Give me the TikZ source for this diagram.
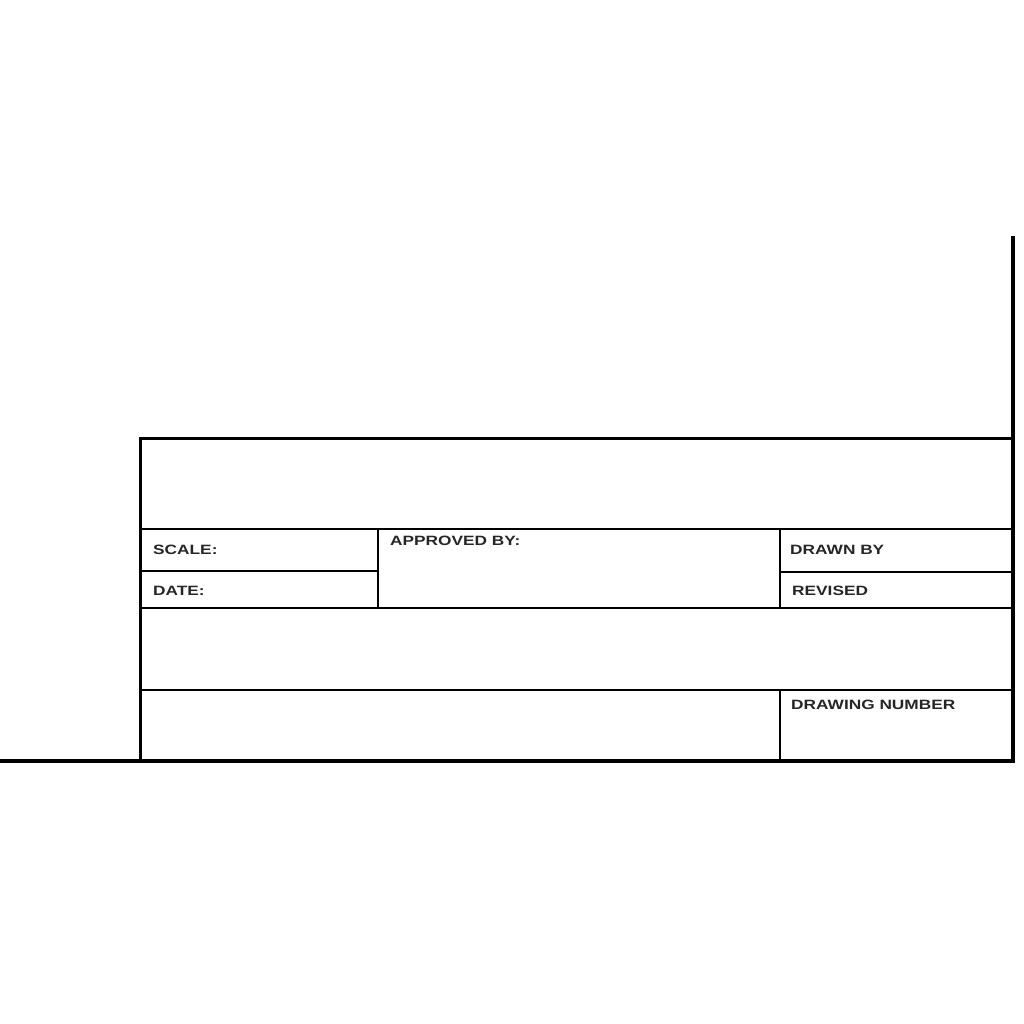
\documentclass[tikz,border=0pt]{standalone}
\usepackage{fontspec}
\newfontfamily\formfont[FakeStretch=1.28]{Liberation Sans}
\tikzset{
  outer/.style={line width=3.6pt, line cap=rect},
  frame/.style={line width=3pt, line cap=rect},
  inner/.style={line width=2.4pt},
  label/.style={anchor=west, inner sep=0pt, font=\formfont\bfseries\fontsize{13.5}{14}\selectfont, text=black!85}
}
\begin{document}
\begin{tikzpicture}[x=1pt,y=-1pt]
\useasboundingbox[fill=white] (0,0) rectangle (1024,1024);
% sheet border
\draw[outer] (1013,238) -- (1013,761);
\draw[outer] (1,761) -- (1013,761);
% title block frame
\draw[frame] (140,761) -- (140,438) -- (1013,438);
% inner rules
\draw[inner] (140,529) -- (1013,529);
\draw[inner] (140,571) -- (378,571);
\draw[inner] (780,572) -- (1013,572);
\draw[inner] (140,608) -- (1013,608);
\draw[inner] (140,690) -- (1013,690);
\draw[inner] (378,529) -- (378,608);
\draw[inner] (780,529) -- (780,608);
\draw[inner] (780,690) -- (780,761);
% labels
\node[label] (scale) at (153,550) {SCALE:};
\node[label] (date) at (153,591) {DATE:};
\node[label] (appr) at (390,541) {APPROVED BY:};
\node[label] (drawn) at (790,550) {DRAWN BY};
\node[label] (rev) at (792,591) {REVISED};
\node[label] (num) at (791,705) {DRAWING NUMBER};
\end{tikzpicture}
\end{document}
